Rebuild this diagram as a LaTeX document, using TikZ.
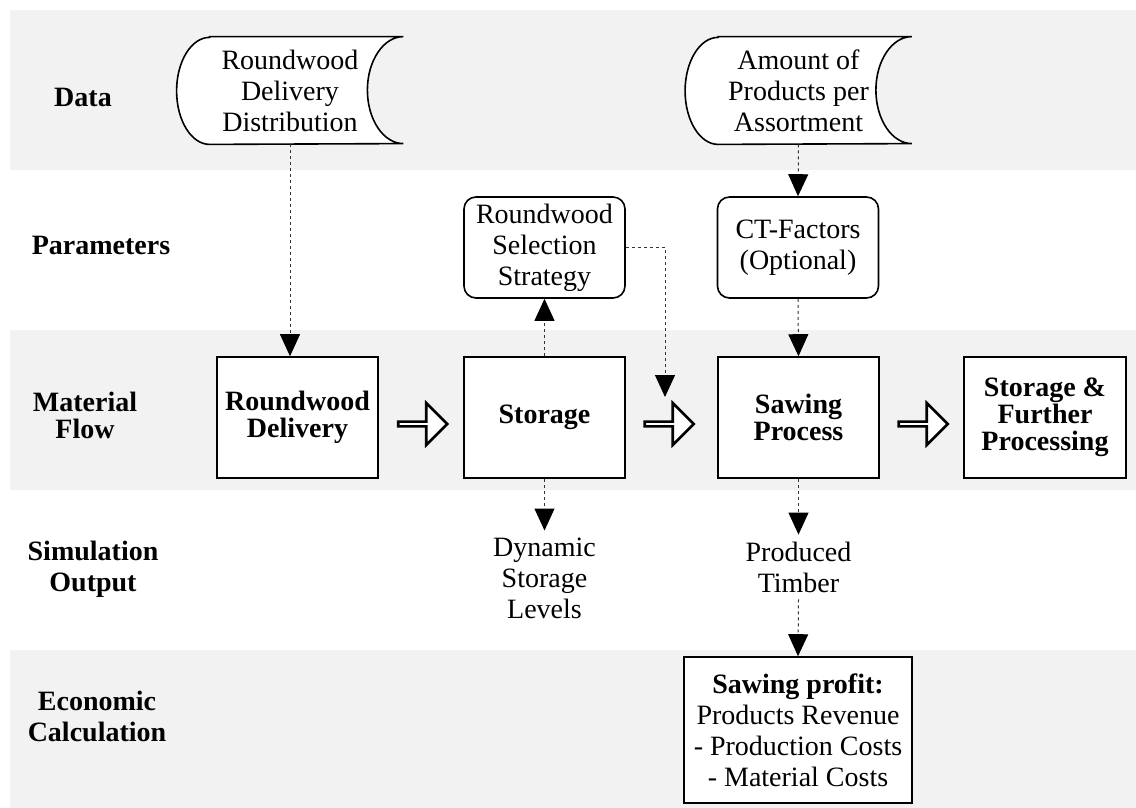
\documentclass[tikz,border=0pt]{standalone}
\usepackage{fontspec}
\setmainfont{Liberation Serif}
\usetikzlibrary{calc,positioning,arrows.meta,shapes.arrows}
\pgfdeclarelayer{bands}
\pgfdeclarelayer{back}
\pgfsetlayers{bands,back,main}
\definecolor{bandgray}{HTML}{F2F2F2}

\tikzset{
  lane/.style={align=center, font=\fontsize{14}{15.5}\selectfont\bfseries},
  box/.style={draw, line width=0.8pt, fill=white, rectangle, minimum width=80.5pt, minimum height=60.5pt, align=center, font=\fontsize{14}{13.5}\selectfont\bfseries},
  param/.style={draw, line width=0.8pt, fill=white, rounded corners=6pt, minimum width=80.5pt, minimum height=50.5pt, align=center},
  datastore/.style={minimum width=113pt, minimum height=53.5pt, align=center},
  flowarrow/.style={draw, line width=1.3pt, fill=white, single arrow, single arrow head extend=5pt, minimum width=21pt, minimum height=24.5pt, inner sep=0pt},
  dep/.style={line width=0.5pt, black!80, dash pattern=on 1.5pt off 1.5pt, -{Triangle[width=10pt,length=11pt,color=black]}}
}

\begin{document}
\begin{tikzpicture}[x=0.5pt, y=-0.5pt, font=\fontsize{14}{15.5}\selectfont]

  \useasboundingbox (0,0) rectangle (1136,808);

  % lanes
  \begin{pgfonlayer}{bands}
    \foreach \top in {10,330,650}
      \fill [bandgray] (10,\top) rectangle (1136,\top+160);
    \fill [bandgray] (10,650) rectangle (1136,808);
  \end{pgfonlayer}

  \node [lane] at (83,97)  (lane_data)  {Data};
  \node [lane] at (101,245) (lane_par)  {Parameters};
  \node [lane, font=\fontsize{14}{13.5}\selectfont\bfseries] at (85,415) (lane_flow) {Material\\Flow};
  \node [lane] at (93,569)  (lane_sim)  {Simulation\\Output};
  \node [lane] at (97,716)  (lane_eco)  {Economic\\Calculation};

  % data
  \node [datastore] at (290,90.5)   (dd) {Roundwood\\Delivery\\Distribution};
  \node [datastore] at (798.5,90.5) (ap) {Amount of\\Products per\\Assortment};

  \begin{pgfonlayer}{back}
    \foreach \d in {dd,ap}{
      \draw [line width=0.8pt, fill=white] ($(\d.north west)+(16.5pt,0)$) -- (\d.north east)
        arc[start angle=90, end angle=270, x radius=18pt, y radius=26.75pt]
        -- ($(\d.south west)+(16.5pt,0)$)
        arc[start angle=270, end angle=90, x radius=16.5pt, y radius=26.75pt] -- cycle;
    }
  \end{pgfonlayer}

  % parameters
  \node [param] at (544.5,247.5) (rws) {Roundwood\\Selection\\Strategy};
  \node [param] at (798,247.5)   (ct)  {CT-Factors\\(Optional)};

  % material flow
  \node [box] at (297.5,417.5) (rwd) {Roundwood\\Delivery};
  \node [box] at (544.5,417.5) (sto) {Storage};
  \node [box] at (798.5,417.5) (saw) {Sawing\\Process};
  \node [box, minimum width=81pt] at (1045,417.5) (sfp) {Storage \&\\Further\\Processing};

  \node [flowarrow] at (421.5,424) (flow_1) {};
  \node [flowarrow] at (668,424)   (flow_2) {};
  \node [flowarrow] at (922,424)   (flow_3) {};

  % simulation output
  \node [align=center] at (544.5,578) (dsl) {Dynamic\\Storage\\Levels};
  \node [align=center] at (798.5,567) (pt)  {Produced\\Timber};

  % economic calculation
  \node [draw, line width=0.8pt, fill=white, minimum width=114pt, minimum height=73pt, align=center] at (798,730) (sp)
    {\textbf{Sawing profit:}\\Products Revenue\\- Production Costs\\- Material Costs};

  \coordinate (rws_in) at (665,397);

  \draw [dep] (dd.south) -- (dd.south |- rwd.north);
  \draw [dep] (ap.south) -- (ct.north);
  \draw [dep] (ct.south) -- (saw.north);
  \draw [dep] (sto.north) -- (rws.south);
  \draw [dep] (rws.east) -| (rws_in);
  \draw [dep] (sto.south) -- (dsl.north);
  \draw [dep] (saw.south) -- (pt.north);
  \draw [dep] (pt.south) -- (sp.north);

\end{tikzpicture}
\end{document}
